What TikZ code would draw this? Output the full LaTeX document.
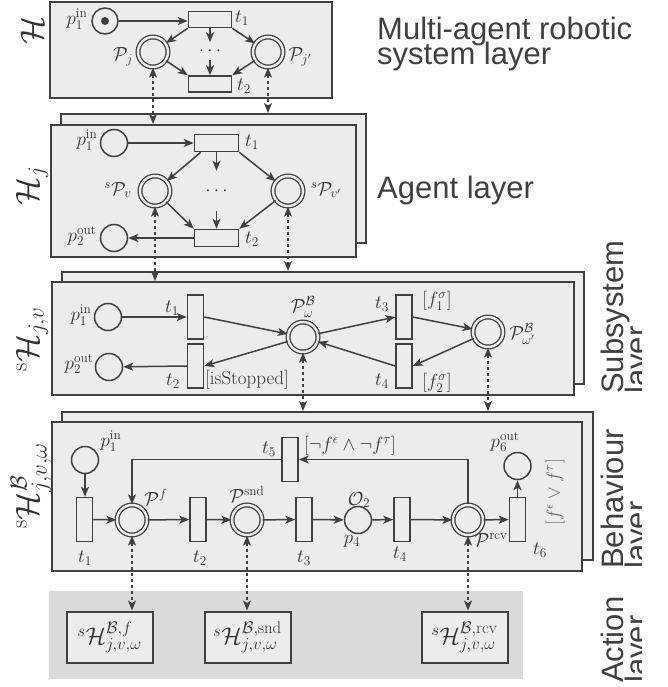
\RequirePackage{fix-cm}
\documentclass[tikz,border=0pt]{standalone}
\usepackage{fontspec}
\newfontfamily\labelsans{Liberation Sans}
\usetikzlibrary{arrows.meta,calc}
\definecolor{lc}{HTML}{404040}
\definecolor{tc}{HTML}{333333}
\definecolor{boxfill}{HTML}{ECECEC}
\definecolor{actfill}{HTML}{D9DADC}
\begin{document}
\begin{tikzpicture}[x=1pt,y=-1pt,
  every node/.style={text=tc, font=\fontsize{19}{23}\selectfont},
  lay/.style={draw=lc, line width=2pt, fill=boxfill, rectangle, inner sep=0pt},
  place/.style={circle, draw=lc, line width=1.5pt, minimum size=27pt, inner sep=0pt},
  dplace/.style={circle, draw=lc, line width=1.3pt, double=boxfill, double distance=2.4pt, minimum size=30pt, inner sep=0pt},
  htrans/.style={rectangle, draw=lc, line width=1.5pt, minimum width=43pt, minimum height=16pt, inner sep=0pt},
  vtrans/.style={rectangle, draw=lc, line width=1.5pt, minimum width=16pt, minimum height=44pt, inner sep=0pt},
  arc/.style={draw=lc, line width=1.5pt, -{Stealth[length=10pt,width=8pt,inset=2.5pt]}},
  link/.style={draw=lc, line width=1.4pt, dash pattern=on 3.5pt off 2.5pt, {Stealth[length=10pt,width=8pt,inset=2.5pt]}-{Stealth[length=10pt,width=8pt,inset=2.5pt]}},
  lbl/.style={inner sep=0pt},
  side/.style={text=lc, font=\labelsans\fontsize{31}{25}\selectfont, inner sep=0pt},
  laylbl/.style={rotate=90, inner sep=0pt, font=\fontsize{33}{40}\selectfont},
  abox/.style={rectangle, draw=lc, line width=2pt, fill=boxfill, minimum width=86pt, minimum height=51pt, inner sep=0pt, font=\fontsize{24}{28}\selectfont},
]
\useasboundingbox (0,0) rectangle (668,687);

% ---------- layer boxes ----------
\node[lay, minimum width=282pt, minimum height=96pt] (L1box) at (191,50) {};
\node[lay, minimum width=305pt, minimum height=129pt] (L2back) at (213.5,178.5) {};
\node[lay, minimum width=305pt, minimum height=132pt] (L2front) at (203.5,191) {};
\node[lay, minimum width=522pt, minimum height=112pt] (L3back) at (323,328) {};
\node[lay, minimum width=522pt, minimum height=113pt] (L3front) at (313,338.5) {};
\node[lay, minimum width=531pt, minimum height=148pt] (L4back) at (327.5,486) {};
\node[lay, minimum width=530pt, minimum height=149pt] (L4front) at (317,496.5) {};
\node[rectangle, fill=actfill, minimum width=474pt, minimum height=88pt, inner sep=0pt] (Abg) at (286,635) {};

% ---------- layer 1 ----------
\node[place, minimum size=26pt] (L1p1) at (105,21) {};
\node[circle, fill=lc, minimum size=8pt, inner sep=0pt] (L1tok) at (L1p1) {};
\node[htrans] (L1t1) at (210,19.5) {};
\node[htrans] (L1t2) at (210,84) {};
\node[dplace] (L1Pj) at (153,52) {};
\node[dplace] (L1Pjp) at (268,52) {};
\node[inner sep=0pt, minimum width=20pt, minimum height=17pt] (L1dots) at (210,51) {$\cdots$};

\draw[arc] (L1p1.east) -- (L1p1.east -| L1t1.west);
\draw[arc] (L1t1.south west) -- (L1Pj);
\draw[arc] (L1t1.south east) -- (L1Pjp);
\draw[arc] (L1Pj) -- (L1t2.north west);
\draw[arc] (L1Pjp) -- (L1t2.north east);
\draw[arc] (L1t1) -- (L1dots);
\draw[arc] (L1dots) -- (L1t2);

\node[lbl] at (77,19) {$p_1^{\mathrm{in}}$};
\node[lbl] at (242,18) {$t_1$};
\node[lbl] at (244,86) {$t_2$};
\node[lbl] at (123,57) {$\mathcal{P}_j$};
\node[lbl] at (300,57) {$\mathcal{P}_{j'}$};

% ---------- layer 2 ----------
\node[place] (L2p1) at (114,143) {};
\node[htrans, minimum width=44pt, minimum height=17pt] (L2t1) at (216.5,143) {};
\node[dplace] (L2Pv) at (155,191) {};
\node[dplace] (L2Pvp) at (288,191) {};
\node[inner sep=0pt, minimum width=20pt, minimum height=40pt] (L2dots) at (216.5,191) {$\cdots$};
\node[htrans, minimum width=44pt, minimum height=17pt] (L2t2) at (216.5,238) {};
\node[place] (L2p2) at (114,238) {};

\draw[arc] (L2p1) -- (L2t1);
\draw[arc] ([xshift=7pt]L2t1.south west) -- (L2Pv);
\draw[arc] (L2t1.south east) -- (L2Pvp);
\draw[arc] (L2Pv) -- (L2t2.north west);
\draw[arc] (L2Pvp) -- (L2t2.north east);
\draw[arc] (L2t1) -- (L2dots);
\draw[arc] (L2dots) -- (L2t2);
\draw[arc] (L2t2) -- (L2p2);

\node[lbl] at (87,140) {$p_1^{\mathrm{in}}$};
\node[lbl] at (252,142) {$t_1$};
\node[lbl] at (118,190) {${}^{s}\mathcal{P}_v$};
\node[lbl] at (326,190) {${}^{s}\mathcal{P}_{v'}$};
\node[lbl] at (82,236) {$p_2^{\mathrm{out}}$};
\node[lbl] at (252,239) {$t_2$};

% ---------- layer 3 ----------
\node[place] (L3p1) at (108,317) {};
\node[place] (L3p2) at (109,367) {};
\node[vtrans] (L3t1) at (195.5,317) {};
\node[vtrans] (L3t2) at (195.5,366) {};
\node[dplace] (L3P) at (303,337) {};
\node[vtrans] (L3t3) at (404,317) {};
\node[vtrans] (L3t4) at (404,366) {};
\node[dplace] (L3Pp) at (488,332) {};

\draw[arc] (L3p1) -- (L3t1);
\draw[arc] (L3t1.east) -- (L3P);
\draw[arc] (L3P) -- (L3t2.east);
\draw[arc] (L3t2.west) -- (L3p2);
\draw[arc] (L3P) -- (L3t3.west);
\draw[arc] (L3t3.east) -- (L3Pp);
\draw[arc] (L3Pp) -- (L3t4.east);
\draw[arc] (L3t4.west) -- (L3P);

\node[lbl] at (81,315) {$p_1^{\mathrm{in}}$};
\node[lbl] at (79,364) {$p_2^{\mathrm{out}}$};
\node[lbl] at (172,308) {$t_1$};
\node[lbl] at (173,381) {$t_2$};
\node[lbl, anchor=base west] at (205,384) {[isStopped]};
\node[lbl] at (303,307) {$\mathcal{P}^{\mathcal{B}}_{\omega}$};
\node[lbl] at (382,304) {$t_3$};
\node[lbl] at (437,301) {$[f_1^{\sigma}]$};
\node[lbl] at (382,381) {$t_4$};
\node[lbl] at (437,383) {$[f_2^{\sigma}]$};
\node[lbl] at (522,334) {$\mathcal{P}^{\mathcal{B}}_{\omega'}$};

% ---------- layer 4 ----------
\node[place] (L4p1) at (85,460) {};
\node[vtrans] (L4t1) at (84.5,519.5) {};
\node[dplace] (L4Pf) at (132,520) {};
\node[vtrans] (L4t2) at (198,519.5) {};
\node[dplace] (L4Ps) at (247,520) {};
\node[vtrans] (L4t3) at (304,519.5) {};
\node[place] (L4p4) at (358,520) {};
\node[vtrans] (L4t4) at (402,519.5) {};
\node[dplace] (L4Pr) at (468,520) {};
\node[vtrans] (L4t6) at (517.5,519.5) {};
\node[place] (L4p6) at (517.5,466) {};
\node[vtrans] (L4t5) at (290,459.5) {};

\draw[arc] (L4p1) -- (L4p1 |- L4t1.north);
\draw[arc] (L4t1) -- (L4Pf);
\draw[arc] (L4Pf) -- (L4t2);
\draw[arc] (L4t2) -- (L4Ps);
\draw[arc] (L4Ps) -- (L4t3);
\draw[arc] (L4t3) -- (L4p4);
\draw[arc] (L4p4) -- (L4t4);
\draw[arc] (L4t4) -- (L4Pr);
\draw[arc] (L4Pr) -- (L4t6);
\draw[arc] (L4t6) -- (L4p6);
\draw[arc] (L4Pr.north) |- (L4t5.east);
\draw[arc] (L4t5.west) -| (L4Pf.north);

\node[lbl] at (111,441) {$p_1^{\mathrm{in}}$};
\node[lbl] at (85,558) {$t_1$};
\node[lbl] at (156,497) {$\mathcal{P}^{f}$};
\node[lbl] at (200,558) {$t_2$};
\node[lbl] at (247,494) {$\mathcal{P}^{\mathrm{snd}}$};
\node[lbl] at (304,558) {$t_3$};
\node[lbl] at (269,449) {$t_5$};
\node[lbl] at (350,446) {$[\neg f^{\epsilon}\wedge\neg f^{\tau}]$};
\node[lbl] at (359,500) {$\mathcal{O}_2$};
\node[lbl] at (352,541) {$p_4$};
\node[lbl] at (400,554) {$t_4$};
\node[lbl] at (491,540) {$\mathcal{P}^{\mathrm{rcv}}$};
\node[lbl] at (540,550) {$t_6$};
\node[lbl] at (505,442) {$p_6^{\mathrm{out}}$};
\node[lbl, rotate=90, text=lc!80] at (555,492) {$[f^{\epsilon}\vee f^{\tau}]$};

% ---------- action layer ----------
\node[abox] (A1) at (109.5,637) {${}^{s}\mathcal{H}^{\mathcal{B},f}_{j,v,\omega}$};
\node[abox] (A2) at (247.5,637) {${}^{s}\mathcal{H}^{\mathcal{B},\mathrm{snd}}_{j,v,\omega}$};
\node[abox] (A3) at (464.5,637) {${}^{s}\mathcal{H}^{\mathcal{B},\mathrm{rcv}}_{j,v,\omega}$};

% ---------- inter-layer links ----------
\draw[link] (L1Pj) -- (L1Pj |- L2front.north);
\draw[link] (L1Pjp) -- (L1Pjp |- L2back.north);
\draw[link] (L2Pv) -- (L2Pv |- L3front.north);
\draw[link] (L2Pvp) -- (L2Pvp |- L3back.north);
\draw[link] (L3P) -- (L3P |- L4back.north);
\draw[link] (L3Pp) -- (L3Pp |- L4back.north);
\draw[link] (L4Pf) -- (L4Pf |- A1.north);
\draw[link] (L4Ps) -- (L4Ps |- A2.north);
\draw[link] (L4Pr) -- (L4Pr |- A3.north);

% ---------- layer names (left) ----------
\node[laylbl] (N1) at (32,30) {$\mathcal{H}$};
\node[laylbl] (N2) at (32,186) {$\mathcal{H}_j$};
\node[laylbl] (N3) at (32,339) {${}^{\mathrm{s}}\mathcal{H}_{j,v}$};
\node[laylbl] (N4) at (31,486) {${}^{\mathrm{s}}\mathcal{H}^{\mathcal{B}}_{j,v,\omega}$};

% ---------- layer titles (right) ----------
\node[side, anchor=base west] (S1a) at (377,40) {Multi-agent robotic};
\node[side, anchor=base west] (S1b) at (377,65) {system layer};
\node[side, anchor=base west] (S2) at (377,198) {Agent layer};
\begin{scope}
\clip (0,0) rectangle (641,687);
\node[side, rotate=90, anchor=base west] (S3a) at (623,394) {Subsystem};
\node[side, rotate=90, anchor=base west] (S3b) at (647,394) {layer};
\node[side, rotate=90, anchor=base west] (S4a) at (623,569) {Behaviour};
\node[side, rotate=90, anchor=base west] (S4b) at (647,569) {layer};
\node[side, rotate=90, anchor=base west] (S5a) at (623,683) {Action};
\node[side, rotate=90, anchor=base west] (S5b) at (647,683) {layer};
\end{scope}
\end{tikzpicture}
\end{document}
